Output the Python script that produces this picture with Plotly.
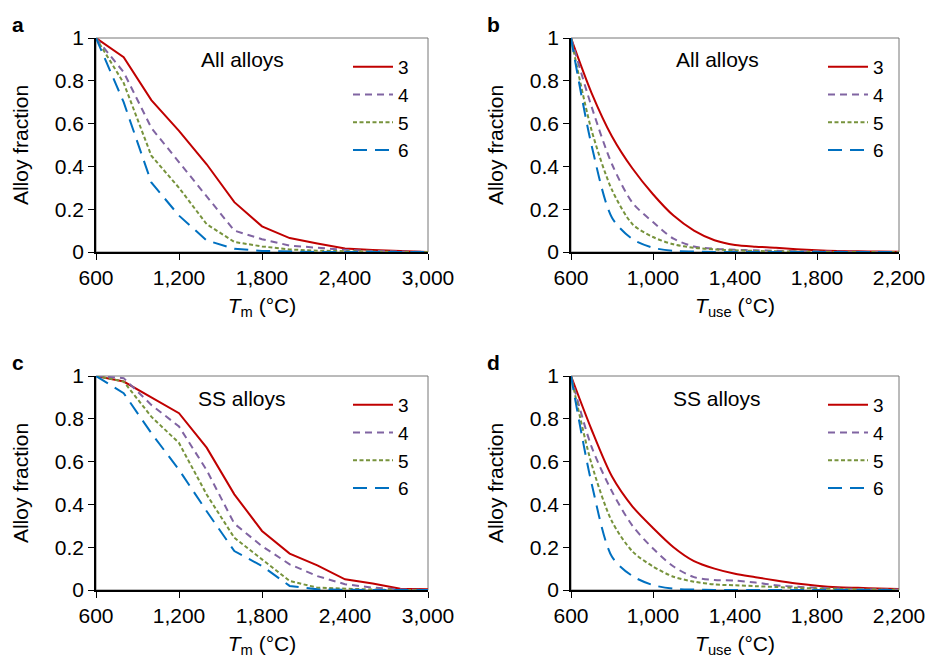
import plotly.graph_objects as go

# ---------------- data ----------------
T_m = [600, 800, 1000, 1200, 1400, 1600, 1800, 2000, 2200, 2400, 2600, 2800, 3000]
T_use = [600, 700, 800, 900, 1000, 1100, 1200, 1300, 1400, 1500, 1600, 1700,
         1800, 1900, 2000, 2100, 2200]

series_names = ["3", "4", "5", "6"]

# Panel a: all alloys vs T_m
a_3 = [1.0, 0.91, 0.71, 0.566, 0.41, 0.233, 0.12, 0.065, 0.04, 0.016, 0.009, 0.003, 0.0]
a_4 = [1.0, 0.84, 0.58, 0.42, 0.256, 0.10, 0.06, 0.03, 0.02, 0.01, 0.005, 0.002, 0.0]
a_5 = [1.0, 0.79, 0.45, 0.30, 0.13, 0.047, 0.026, 0.012, 0.006, 0.003, 0.001, 0.0, 0.0]
a_6 = [1.0, 0.70, 0.325, 0.17, 0.054, 0.015, 0.005, 0.002, 0.0, 0.0, 0.0, 0.0, 0.0]

# Panel b: all alloys vs T_use
b_3 = [1.0, 0.744, 0.54, 0.39, 0.27, 0.17, 0.10, 0.055, 0.033, 0.025, 0.02, 0.013,
       0.008, 0.005, 0.003, 0.002, 0.001]
b_4 = [1.0, 0.68, 0.41, 0.23, 0.14, 0.062, 0.026, 0.015, 0.01, 0.008, 0.006, 0.004,
       0.003, 0.002, 0.001, 0.0, 0.0]
b_5 = [1.0, 0.57, 0.29, 0.13, 0.07, 0.036, 0.02, 0.012, 0.008, 0.005, 0.003, 0.002,
       0.001, 0.0, 0.0, 0.0, 0.0]
b_6 = [1.0, 0.50, 0.16, 0.06, 0.02, 0.005, 0.002, 0.0, 0.0, 0.0, 0.0, 0.0,
       0.0, 0.0, 0.0, 0.0, 0.0]

# Panel c: SS alloys vs T_m
c_3 = [1.0, 0.974, 0.90, 0.826, 0.665, 0.447, 0.276, 0.17, 0.115, 0.05, 0.03, 0.006, 0.003]
c_4 = [1.0, 0.99, 0.865, 0.764, 0.56, 0.31, 0.205, 0.12, 0.065, 0.027, 0.011, 0.003, 0.0]
c_5 = [1.0, 0.974, 0.81, 0.687, 0.446, 0.244, 0.143, 0.042, 0.011, 0.005, 0.002, 0.0, 0.0]
c_6 = [1.0, 0.92, 0.733, 0.562, 0.368, 0.182, 0.112, 0.019, 0.003, 0.0, 0.0, 0.0, 0.0]

# Panel d: SS alloys vs T_use
d_3 = [1.0, 0.75, 0.53, 0.39, 0.29, 0.20, 0.135, 0.10, 0.076, 0.06, 0.044, 0.03,
       0.02, 0.013, 0.01, 0.007, 0.005]
d_4 = [1.0, 0.67, 0.46, 0.30, 0.194, 0.11, 0.06, 0.047, 0.044, 0.035, 0.022, 0.015,
       0.01, 0.007, 0.005, 0.003, 0.002]
d_5 = [1.0, 0.59, 0.32, 0.18, 0.11, 0.062, 0.039, 0.026, 0.022, 0.018, 0.014, 0.01,
       0.007, 0.005, 0.003, 0.002, 0.001]
d_6 = [1.0, 0.50, 0.155, 0.065, 0.023, 0.006, 0.002, 0.0, 0.0, 0.0, 0.0, 0.0,
       0.0, 0.0, 0.0, 0.0, 0.0]

y_ticks = [0, 0.2, 0.4, 0.6, 0.8, 1]
y_tick_labels = ["0", "0.2", "0.4", "0.6", "0.8", "1"]
x_ticks_m = [600, 1200, 1800, 2400, 3000]
x_ticks_use = [600, 1000, 1400, 1800, 2200]

panel_letters = ["a", "b", "c", "d"]
panel_notes = ["All alloys", "All alloys", "SS alloys", "SS alloys"]

# ---------------- styles ----------------
colors = ["#C00000", "#8064A2", "#77933C", "#0070C0"]
dashes = ["solid", "7px,5px", "4px,2.5px", "14px,8px"]
FONT = "Liberation Sans, Arial, sans-serif"
FS = 21

# the page body adds an 8px offset; lay out in screen pixels and shift
OFF = 8
W, H = 933 - OFF, 660 - OFF
ML, MR, MT, MB = 96 - OFF, 26 - OFF, 38 - OFF, 70 - OFF
PW, PH = W - ML - MR, H - MT - MB


def px(xs):
    """screen x pixel -> paper fraction"""
    return (xs - OFF - ML) / PW


def py(ys):
    """screen y pixel -> paper fraction"""
    return 1 - (ys - OFF - MT) / PH


# plot-area boxes in screen pixels (left, right, top, bottom)
boxes = [(96, 428, 38, 252), (571, 899, 38, 252), (96, 428, 376, 590), (571, 899, 376, 590)]

panels = [
    (T_m, [a_3, a_4, a_5, a_6], "linear", x_ticks_m, "<i>T</i><sub>m</sub> (°C)"),
    (T_use, [b_3, b_4, b_5, b_6], "spline", x_ticks_use, "<i>T</i><sub>use</sub> (°C)"),
    (T_m, [c_3, c_4, c_5, c_6], "linear", x_ticks_m, "<i>T</i><sub>m</sub> (°C)"),
    (T_use, [d_3, d_4, d_5, d_6], "spline", x_ticks_use, "<i>T</i><sub>use</sub> (°C)"),
]

fig = go.Figure()
layout = dict(
    width=W, height=H,
    margin=dict(l=ML, r=MR, t=MT, b=MB, autoexpand=False),
    paper_bgcolor="white", plot_bgcolor="white",
    font=dict(family=FONT, size=FS, color="black"),
    showlegend=True,
)
annotations = []
shapes = []

for i, (xs, ys_list, shape, xt, xtitle) in enumerate(panels):
    k = "" if i == 0 else str(i + 1)
    xa, ya = "x" + k, "y" + k
    leg = "legend" + k
    l, r, t, b = boxes[i]
    for j, ys in enumerate(ys_list):
        fig.add_trace(go.Scatter(
            x=xs, y=ys, mode="lines", name=series_names[j],
            line=dict(color=colors[j], width=2, dash=dashes[j], shape=shape, smoothing=0.8),
            xaxis=xa, yaxis=ya, legend=leg,
            hoverinfo="skip",
        ))
    layout["xaxis" + k] = dict(
        domain=[px(l), px(r)], anchor=ya, range=[xs[0], xs[-1]], automargin=False,
        tickvals=xt, tickformat=",", ticks="outside", ticklen=6, tickwidth=1.2,
        tickcolor="black", showline=True, linecolor="black", linewidth=1.5,
        showgrid=False, zeroline=False, tickfont=dict(size=FS),
        title=dict(text=xtitle, font=dict(size=FS), standoff=10),
    )
    layout["yaxis" + k] = dict(
        domain=[py(b), py(t)], anchor=xa, range=[0, 1], automargin=False,
        tickvals=y_ticks, ticktext=y_tick_labels, ticks="outside", ticklen=6,
        tickwidth=1.2, tickcolor="black", showline=True, linecolor="black",
        linewidth=1.5, showgrid=False, zeroline=False, tickfont=dict(size=FS),
        title=dict(text="Alloy fraction", font=dict(size=FS), standoff=20),
    )
    layout[leg] = dict(
        x=px(l + 252), y=py(t + 10), xanchor="left", yanchor="top",
        bgcolor="rgba(0,0,0,0)", font=dict(size=19), tracegroupgap=0,
        itemwidth=40,
    )
    # frame (thin grey top/right)
    shapes.append(dict(type="rect", xref=xa + " domain", yref=ya + " domain",
                       x0=0, x1=1, y0=0, y1=1, line=dict(color="#777777", width=1),
                       layer="below"))
    annotations.append(dict(text="<b>" + panel_letters[i] + "</b>", xref="paper", yref="paper",
                            x=px(l - 86), y=py(t - 14), xanchor="left", yanchor="middle",
                            showarrow=False, font=dict(size=FS)))
    annotations.append(dict(text=panel_notes[i], xref="paper", yref="paper",
                            x=px(l + 146), y=py(t + 22), xanchor="center", yanchor="middle",
                            showarrow=False, font=dict(size=FS)))

layout["annotations"] = annotations
layout["shapes"] = shapes
fig.update_layout(**layout)
fig.write_html("out.html")
